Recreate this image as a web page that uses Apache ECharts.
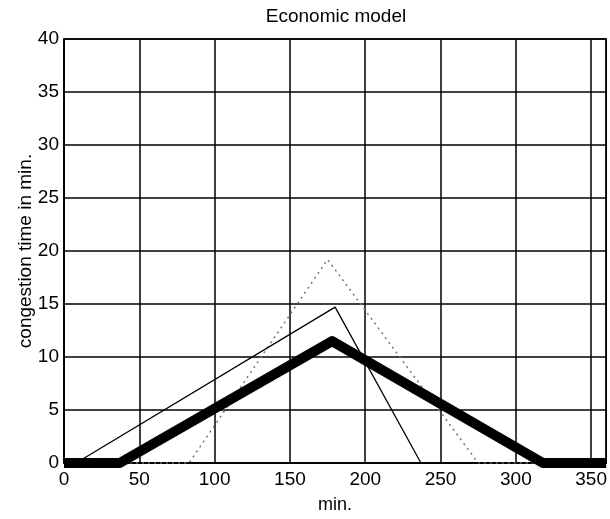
<!DOCTYPE html>
<html>
<head>
<meta charset="utf-8">
<script src="https://cdn.jsdelivr.net/npm/echarts@6/dist/echarts.min.js"></script>
<style>
html,body{margin:0;padding:0;background:#fff;}
#chart{width:610px;height:519px;}
</style>
</head>
<body>
<div id="chart"></div>
<script>
// Data
const titleText = 'Economic model';
const xName = 'min.';
const yName = 'congestion time in min.';

const thickX = [0, 37, 178, 318, 360];
const thickY = [0, 0, 11.5, 0, 0];

const thinX = [0, 8, 180, 237, 275];
const thinY = [0, 0, 14.7, 0, 0];

const dotX = [0, 83, 175, 275, 360];
const dotY = [0, 0, 19.2, 0, 0];

function pairs(xs, ys) { return xs.map((x, i) => [x, ys[i]]); }

const font = 'Arial, "Liberation Sans", Helvetica, sans-serif';
const chart = echarts.init(document.getElementById('chart'), null, {renderer: 'canvas'});
chart.setOption({
  animation: false,
  backgroundColor: '#fff',
  graphic: [{
    type: 'text', x: 336, y: 17,
    style: {text: titleText, fill: '#000', font: '19px ' + font, textAlign: 'center', textVerticalAlign: 'middle'}
  }],
  grid: {left: 64, right: 2, top: 39, bottom: 54, show: true, borderColor: '#000', borderWidth: 1.5, backgroundColor: 'transparent'},
  xAxis: {
    type: 'value', min: 0, max: 360, interval: 50,
    name: xName, nameLocation: 'middle', nameGap: 33, nameMoveOverlap: false,
    nameTextStyle: {fontSize: 18, color: '#000', fontFamily: font},
    axisLine: {lineStyle: {color: '#000', width: 1.5}},
    axisTick: {show: false},
    axisLabel: {fontSize: 19, color: '#000', fontFamily: font, margin: 7, showMaxLabel: false},
    splitLine: {show: true, lineStyle: {color: '#000', width: 1.5}}
  },
  yAxis: {
    type: 'value', min: 0, max: 40, interval: 5,
    name: yName, nameLocation: 'middle', nameGap: 29, nameMoveOverlap: false,
    nameTextStyle: {fontSize: 19, color: '#000', fontFamily: font},
    axisLine: {lineStyle: {color: '#000', width: 1.5}},
    axisTick: {show: false},
    axisLabel: {fontSize: 19, color: '#000', fontFamily: font, margin: 5},
    splitLine: {show: true, lineStyle: {color: '#000', width: 1.5}}
  },
  series: [
    {type: 'line', data: pairs(dotX, dotY), showSymbol: false, z: 2,
     lineStyle: {color: '#777', width: 1.5, type: [2, 4]}},
    {type: 'line', data: pairs(thinX, thinY), showSymbol: false, z: 3,
     lineStyle: {color: '#000', width: 1.3}},
    {type: 'line', data: pairs(thickX, thickY), showSymbol: false, z: 4,
     lineStyle: {color: '#000', width: 10, join: 'round', cap: 'butt'}}
  ]
});
</script>
</body>
</html>
